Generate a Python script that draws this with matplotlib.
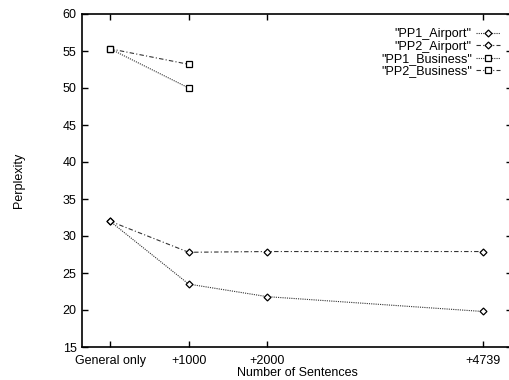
import matplotlib.pyplot as plt

plt.rcParams['font.family'] = ['Liberation Sans', 'DejaVu Sans']

sentences = [0, 1000, 2000, 4739]
tick_labels = ['General only', '+1000', '+2000', '+4739']

pp1_airport = [32.0, 23.5, 21.8, 19.8]
pp2_airport = [32.0, 27.8, 27.9, 27.9]
pp1_business = [55.3, 50.0]
pp2_business = [55.3, 53.2]

fig = plt.figure(figsize=(5.1, 3.8), dpi=100)
ax = fig.add_axes([82 / 510, 33 / 380, 430 / 510, 333 / 380])

ax.plot(sentences, pp1_airport, color='#333333', linestyle=(0, (1, 1)), linewidth=0.8,
        marker='D', markersize=3.5, markerfacecolor='white', markeredgecolor='black',
        markeredgewidth=0.9, label='"PP1_Airport"')
ax.plot(sentences, pp2_airport, color='#333333', linestyle=(0, (4, 2, 1, 2)), linewidth=0.8,
        marker='D', markersize=3.5, markerfacecolor='white', markeredgecolor='black',
        markeredgewidth=0.9, label='"PP2_Airport"')
ax.plot(sentences[:2], pp1_business, color='#333333', linestyle=(0, (1, 1)), linewidth=0.8,
        marker='s', markersize=4.5, markerfacecolor='white', markeredgecolor='black',
        markeredgewidth=0.9, label='"PP1_Business"')
ax.plot(sentences[:2], pp2_business, color='#333333', linestyle=(0, (4, 2, 1, 2)), linewidth=0.8,
        marker='s', markersize=4.5, markerfacecolor='white', markeredgecolor='black',
        markeredgewidth=0.9, label='"PP2_Business"')

ax.set_xlim(-356, 5108)
ax.set_ylim(15, 60)
ax.set_xticks(sentences)
ax.set_xticklabels(tick_labels)
ax.set_yticks(range(15, 61, 5))
ax.tick_params(direction='in', length=4, width=1, top=True, right=True, labelsize=9)
ax.tick_params(axis='x', pad=6)
ax.tick_params(axis='y', pad=4)
for s in ax.spines.values():
    s.set_linewidth(1.2)

ax.set_xlabel('Number of Sentences', fontsize=9, labelpad=0)
ax.set_ylabel('Perplexity', fontsize=9, labelpad=27)

leg = ax.legend(loc='upper right', bbox_to_anchor=(418 / 430, 1 - 14.5 / 333), frameon=False,
                fontsize=9, markerfirst=False, handlelength=1.9, handletextpad=0.35,
                labelspacing=0.02, borderpad=0, borderaxespad=0)
for t in leg.get_texts():
    t.set_ha('right')

fig.savefig('out.png', dpi=100)
